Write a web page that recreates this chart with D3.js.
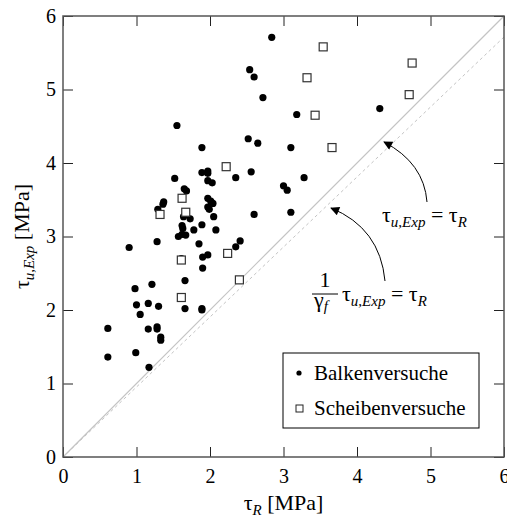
<!DOCTYPE html>
<html>
<head>
<meta charset="utf-8">
<script src="https://cdn.jsdelivr.net/npm/d3@7"></script>
</head>
<body style="margin:0">
<svg id="chart" width="507" height="517" font-family="Liberation Serif"></svg>
<script>
// Balkenversuche (filled dots): [tauR, tauExp]
const balken = [
  [2.84,5.71],[2.54,5.27],[2.60,5.17],[2.72,4.89],[3.18,4.66],[2.52,4.33],[2.65,4.27],
  [3.10,4.21],[4.31,4.74],[2.56,3.88],[2.35,3.80],[3.28,3.80],[1.55,4.51],[1.89,4.21],
  [1.89,3.87],[1.97,3.89],[1.97,3.86],[1.52,3.79],[1.65,3.65],[1.68,3.62],[1.97,3.76],
  [2.03,3.73],[1.37,3.47],[1.36,3.44],[1.97,3.52],[2.01,3.48],[2.04,3.45],[1.29,3.37],
  [1.97,3.40],[1.99,3.37],[1.64,3.27],[1.73,3.24],[2.05,3.27],[1.89,3.16],[1.62,3.15],
  [1.63,3.11],[1.78,3.09],[2.08,3.09],[1.57,3.00],[1.62,3.03],[1.67,3.02],[1.28,2.93],
  [0.90,2.85],[1.85,2.90],[2.35,2.86],[2.41,2.94],[1.61,2.70],[1.90,2.72],[1.97,2.75],
  [1.90,2.57],[1.66,2.40],[0.98,2.29],[1.21,2.35],[1.00,2.07],[1.16,2.09],[1.30,2.05],
  [1.66,2.02],[1.89,2.02],[1.89,2.00],[1.05,1.94],[0.61,1.75],[0.61,1.36],[0.99,1.42],
  [1.16,1.74],[1.28,1.77],[1.28,1.74],[1.33,1.63],[1.33,1.59],[1.17,1.22],[3.00,3.69],
  [3.05,3.63],[2.60,3.30],[3.10,3.33]
];
// Scheibenversuche (open squares)
const scheiben = [
  [3.54,5.58],[4.75,5.36],[3.32,5.16],[4.71,4.93],[3.43,4.65],[3.66,4.21],[2.22,3.95],
  [1.62,3.52],[1.32,3.30],[1.67,3.33],[2.24,2.77],[1.61,2.68],[2.40,2.41],[1.61,2.17]
];
const ticks = [0, 1, 2, 3, 4, 5, 6];
const legendLabels = ["Balkenversuche", "Scheibenversuche"];
const dashedSlope = 1 / 1.05;

const svg = d3.select("#chart");
const m = {left: 63, top: 16}, w = 441, h = 441;
const x = d3.scaleLinear().domain([0, 6]).range([m.left, m.left + w]);
const y = d3.scaleLinear().domain([0, 6]).range([m.top + h, m.top]);

// diagonal reference lines
svg.append("line")
  .attr("x1", x(0)).attr("y1", y(0)).attr("x2", x(6)).attr("y2", y(6))
  .attr("stroke", "#c4c4c4").attr("stroke-width", 1.2);
svg.append("line")
  .attr("x1", x(0)).attr("y1", y(0)).attr("x2", x(6)).attr("y2", y(6 * dashedSlope))
  .attr("stroke", "#c4c4c4").attr("stroke-width", 1).attr("stroke-dasharray", "3,3");

// axes with inward ticks
const fmt = d3.format("d");
const gx = svg.append("g").attr("transform", `translate(0,${y(0)})`)
  .call(d3.axisBottom(x).tickValues(ticks).tickFormat(fmt).tickSizeInner(-10).tickSizeOuter(0).tickPadding(12));
const gy = svg.append("g").attr("transform", `translate(${x(0)},0)`)
  .call(d3.axisLeft(y).tickValues(ticks).tickFormat(fmt).tickSizeInner(-10).tickSizeOuter(0).tickPadding(7));
const gt = svg.append("g").attr("transform", `translate(0,${y(6)})`)
  .call(d3.axisTop(x).tickValues(ticks).tickFormat("").tickSizeInner(-10).tickSizeOuter(0));
const gr = svg.append("g").attr("transform", `translate(${x(6)},0)`)
  .call(d3.axisRight(y).tickValues(ticks).tickFormat("").tickSizeInner(-10).tickSizeOuter(0));
[gx, gy, gt, gr].forEach(g => {
  g.attr("font-family", "Liberation Serif").attr("font-size", 20);
  g.select(".domain").remove();
  g.selectAll(".tick line").attr("stroke", "#222");
  g.selectAll(".tick text").attr("fill", "#000");
});

// frame
svg.append("rect")
  .attr("x", x(0)).attr("y", y(6)).attr("width", w).attr("height", h)
  .attr("fill", "none").attr("stroke", "#555").attr("stroke-width", 1.5);

// data
svg.append("g").selectAll("circle").data(balken).join("circle")
  .attr("cx", d => x(d[0])).attr("cy", d => y(d[1])).attr("r", 3.6).attr("fill", "#000");
svg.append("g").selectAll("rect").data(scheiben).join("rect")
  .attr("x", d => x(d[0]) - 4).attr("y", d => y(d[1]) - 4)
  .attr("width", 8).attr("height", 8)
  .attr("fill", "#fff").attr("stroke", "#333").attr("stroke-width", 1.2);

// arrows
svg.append("defs").append("marker")
  .attr("id", "head").attr("viewBox", "0 0 10 10").attr("refX", 9).attr("refY", 5)
  .attr("markerWidth", 14).attr("markerHeight", 9).attr("markerUnits", "userSpaceOnUse")
  .attr("orient", "auto")
  .append("path").attr("d", "M0,0 L10,5 L0,10 Z").attr("fill", "#000");
svg.append("path").attr("d", "M427,202 Q424,163 384,142")
  .attr("fill", "none").attr("stroke", "#000").attr("stroke-width", 1).attr("marker-end", "url(#head)");
svg.append("path").attr("d", "M385,281 Q380,228 331,208")
  .attr("fill", "none").attr("stroke", "#000").attr("stroke-width", 1).attr("marker-end", "url(#head)");

// equation labels
function tauEq(g, x0, y0) {
  const t = g.append("text").attr("x", x0).attr("y", y0).attr("font-size", 22);
  t.append("tspan").text("τ");
  t.append("tspan").attr("dy", 5).attr("font-size", 15).attr("font-style", "italic").text("u,Exp");
  t.append("tspan").attr("dy", -5).text(" = τ");
  t.append("tspan").attr("dy", 5).attr("font-size", 15).attr("font-style", "italic").text("R");
}
tauEq(svg, 382, 222);
svg.append("text").attr("x", 325).attr("y", 287).attr("text-anchor", "middle")
  .attr("font-size", 22).text("1");
svg.append("line").attr("x1", 312).attr("x2", 338).attr("y1", 294).attr("y2", 294)
  .attr("stroke", "#000").attr("stroke-width", 1);
const gam = svg.append("text").attr("x", 314).attr("y", 307).attr("font-size", 22);
gam.append("tspan").text("γ");
gam.append("tspan").attr("dy", 4).attr("font-size", 15).attr("font-style", "italic").text("f");
tauEq(svg, 342, 301);

// legend
const lg = svg.append("g");
lg.append("rect").attr("x", 283).attr("y", 353).attr("width", 196).attr("height", 75)
  .attr("fill", "#fff").attr("stroke", "#000").attr("stroke-width", 1);
lg.append("circle").attr("cx", 299).attr("cy", 373).attr("r", 2.6).attr("fill", "#000");
lg.append("rect").attr("x", 296).attr("y", 405).attr("width", 7).attr("height", 7)
  .attr("fill", "#fff").attr("stroke", "#222").attr("stroke-width", 1);
lg.selectAll("text.lab").data(legendLabels).join("text").attr("class", "lab")
  .attr("x", 314).attr("y", (d, i) => 380 + i * 35)
  .attr("font-size", 21).text(d => d);

// axis titles
const xt = svg.append("text").attr("x", x(3)).attr("y", 510).attr("text-anchor", "middle")
  .attr("font-size", 22);
xt.append("tspan").text("τ");
xt.append("tspan").attr("dy", 5).attr("font-size", 15).attr("font-style", "italic").text("R");
xt.append("tspan").attr("dy", -5).text(" [MPa]");

const yt = svg.append("text").attr("transform", `translate(29,${y(3)}) rotate(-90)`)
  .attr("text-anchor", "middle").attr("font-size", 22);
yt.append("tspan").text("τ");
yt.append("tspan").attr("dy", 5).attr("font-size", 15).attr("font-style", "italic").text("u,Exp");
yt.append("tspan").attr("dy", -5).text(" [MPa]");

svg.selectAll("text").attr("font-family", "Liberation Serif");
</script>
</body>
</html>
